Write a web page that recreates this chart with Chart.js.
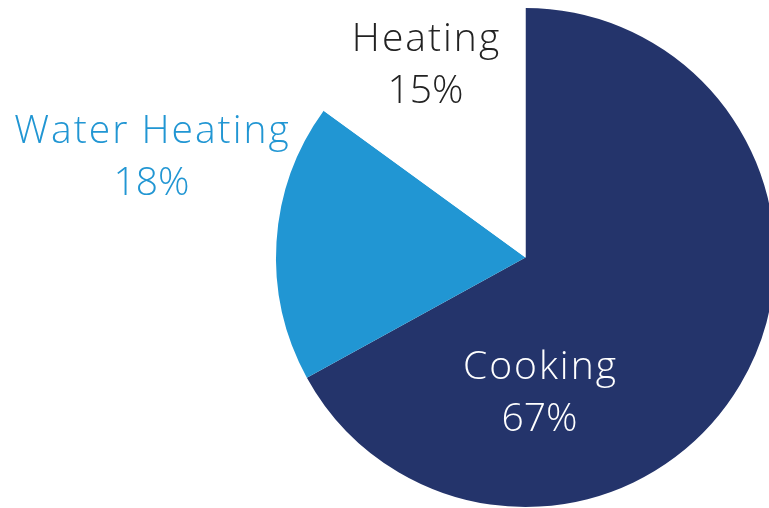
<!DOCTYPE html>
<html>
<head>
<meta charset="utf-8">
<script src="https://cdn.jsdelivr.net/npm/chart.js@4"></script>
<style>
  html, body { margin: 0; padding: 0; background: #fff; overflow: hidden; }
  #wrap { width: 800px; height: 508px; }
</style>
</head>
<body>
<div id="wrap"><canvas id="energyPie" width="800" height="508"></canvas></div>
<script>
// categorias e valores (%)
var categories = ['Cooking', 'Water Heating', 'Heating'];
var shares = [67, 18, 15];

var sliceColors = ['#24346b', '#2196d3', '#ffffff'];
var labelColors = ['#ffffff', '#2196d3', '#222222'];
// posicao dos rotulos relativa ao centro da pizza
var labelOffsets = [[14, 121], [-374, -115], [-100, -207]];

var labelPlugin = {
  id: 'sliceLabels',
  afterDatasetsDraw: function (chart) {
    var ctx = chart.ctx;
    var arc = chart.getDatasetMeta(0).data[0];
    ctx.save();
    ctx.font = '300 39px "Open Sans"';
    ctx.textAlign = 'center';
    ctx.textBaseline = 'alphabetic';
    categories.forEach(function (name, i) {
      var x = arc.x + labelOffsets[i][0];
      var y = arc.y + labelOffsets[i][1];
      ctx.fillStyle = labelColors[i];
      ctx.letterSpacing = '2px';
      ctx.fillText(name, x + 1, y);
      ctx.letterSpacing = '0px';
      ctx.fillText(shares[i] + '%', x, y + 52);
    });
    ctx.restore();
  }
};

var ctx = document.getElementById('energyPie').getContext('2d');
new Chart(ctx, {
  type: 'pie',
  data: {
    labels: categories,
    datasets: [{
      data: shares,
      backgroundColor: sliceColors,
      borderWidth: 0
    }]
  },
  options: {
    responsive: false,
    animation: false,
    layout: { padding: { left: 276, top: 8, right: 25, bottom: 1 } },
    plugins: {
      legend: { display: false },
      tooltip: { enabled: false }
    }
  },
  plugins: [labelPlugin]
});
</script>
</body>
</html>
